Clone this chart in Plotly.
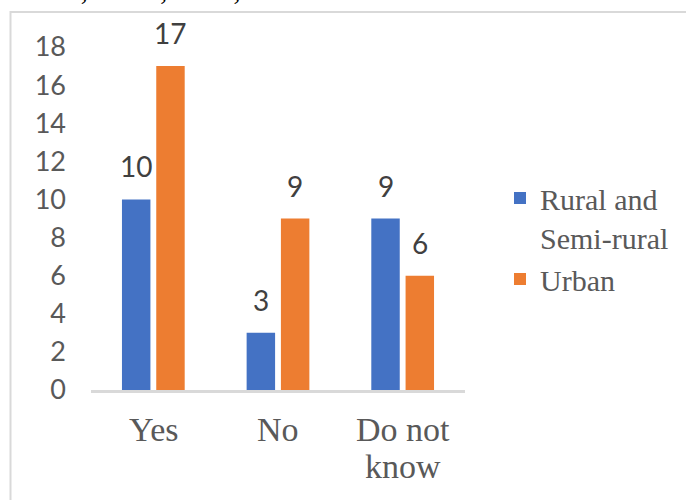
import plotly.graph_objects as go

# Survey answers by area type
categories = ["Yes", "No", "Do not know"]
category_lines = [["Yes"], ["No"], ["Do not", "know"]]
rural_semi = [10, 3, 9]
urban = [17, 9, 6]
series_names = ["Rural and<br>Semi-rural", "Urban"]
colors = ["#4472C4", "#ED7D31"]
y_ticks = list(range(0, 20, 2))

W, H = 686, 500
L, R, T, B = 91, 465, 47, 390  # plot area in pixels

SERIF = "Liberation Serif, Times New Roman, Times, DejaVu Serif, serif"
SANS = "Lato, Open Sans, sans-serif"


def px_x(x):
    return (x - L) / (R - L)


def px_y(y):
    return (B - y) / (B - T)


fig = go.Figure()
for name, vals, col in zip(series_names, [rural_semi, urban], colors):
    fig.add_trace(go.Bar(x=categories, y=vals, name=name, marker_color=col,
                         marker_line_width=0))

# Value labels above each bar
for offset, vals in zip([-17, 17], [rural_semi, urban]):
    for c, v in zip(categories, vals):
        fig.add_annotation(x=c, y=v, text=str(v), showarrow=False,
                           xshift=offset, yshift=14, yanchor="bottom",
                           font=dict(family=SANS, size=28, color="#404040"))

# Category labels under the axis, one line at a time for tight spacing
for c, lines in zip(categories, category_lines):
    for i, line in enumerate(lines):
        fig.add_annotation(x=c, xref="x", yref="paper", y=px_y(429 + 37 * i),
                           yanchor="middle", text=line, showarrow=False,
                           font=dict(family=SERIF, size=34, color="#595959"))

# Caption line running off the top of the page
fig.add_annotation(xref="paper", yref="paper", x=px_x(-6), y=px_y(8),
                   xanchor="left", yanchor="bottom", showarrow=False,
                   text="… item, “Yes”, “No”, and",
                   font=dict(family=SERIF, size=28, color="#000000"))

# Outer frame of the chart
fig.add_shape(type="rect", xref="paper", yref="paper",
              x0=px_x(10.5), x1=px_x(720), y0=px_y(12), y1=px_y(540),
              line=dict(color="#D9D9D9", width=2), fillcolor="rgba(0,0,0,0)",
              layer="below")

fig.update_layout(
    width=W, height=H,
    margin=dict(l=L, r=W - R, t=T, b=H - B),
    paper_bgcolor="white", plot_bgcolor="white",
    barmode="group", bargap=0.45, bargroupgap=0.17,
    showlegend=True,
    legend=dict(x=px_x(500), y=px_y(172), xanchor="left", yanchor="top",
                valign="top", bgcolor="rgba(0,0,0,0)",
                font=dict(family=SERIF, size=30, color="#595959")),
    xaxis=dict(showline=True, linecolor="#D9D9D9", linewidth=2.5,
               showgrid=False, ticks="", showticklabels=False),
    yaxis=dict(range=[0, 18], tickvals=y_ticks, showline=False, showgrid=False,
               zeroline=False, ticks="", ticklabelstandoff=24,
               tickfont=dict(family=SANS, size=27, color="#595959")),
)

fig.write_html("out.html")
